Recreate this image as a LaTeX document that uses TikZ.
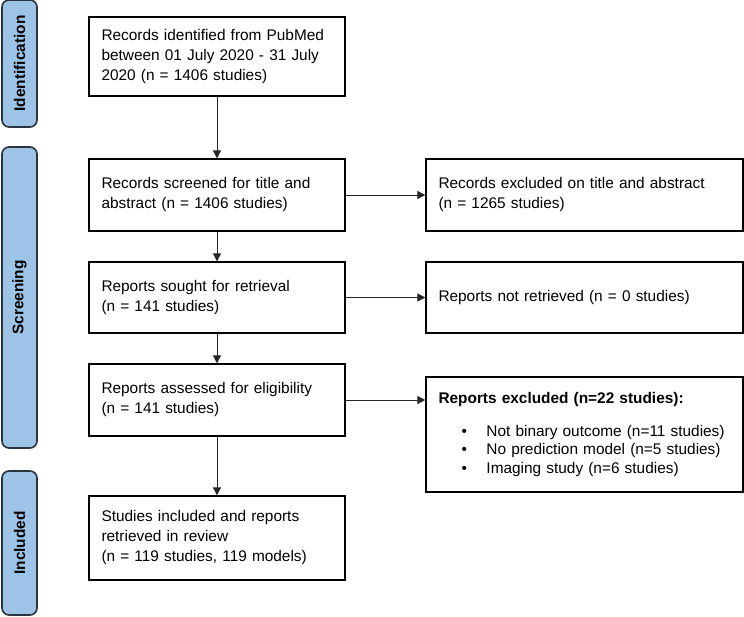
\documentclass[tikz,border=0pt]{standalone}
\usepackage{fontspec}
\setmainfont{Liberation Sans}
\usetikzlibrary{arrows.meta,positioning}

\definecolor{stagefill}{HTML}{9DC3E6}
\definecolor{stageedge}{HTML}{2A3441}

\begin{document}
\begin{tikzpicture}[
    x=1pt, y=-1pt,
    stage/.style={rectangle, draw=stageedge, fill=stagefill, line width=1.6pt, rounded corners=7pt,
        rotate=90, minimum height=35pt, inner sep=0pt, font=\fontsize{15.4}{18}\selectfont\bfseries},
    flowbox/.style={rectangle, draw, line width=1.3pt, align=left, inner xsep=12.5pt, inner ysep=0pt,
        font=\fontsize{15.4}{20}\selectfont},
    mainbox/.style={flowbox, minimum width=256pt, text width=231pt},
    sidebox/.style={flowbox, minimum width=317pt, text width=292pt},
    flow/.style={-{Triangle[width=8pt,length=8pt]}, line width=0.8pt, draw=black!85}
]
\useasboundingbox (0,0) rectangle (744,616);

% Stages
\node[stage, minimum width=127pt] (sIdent) at (19.5,63.5) {Identification};
\node[stage, minimum width=301pt] (sScreen) at (19.5,297.5) {Screening};
\node[stage, minimum width=144pt] (sIncl) at (19.5,543) {Included};

% Main column
\node[mainbox, minimum height=79pt] (ident) at (217,56.5)
    {Records identified from PubMed\\between 01 July 2020 - 31 July\\2020 (n = 1406 studies)};
\node[mainbox, minimum height=72pt] (screen) at (217,195)
    {Records screened for title and\\abstract (n = 1406 studies)};
\node[mainbox, minimum height=71pt] (sought) at (217,297.5)
    {Reports sought for retrieval\\(n = 141 studies)};
\node[mainbox, minimum height=72pt] (assess) at (217,400)
    {Reports assessed for eligibility\\(n = 141 studies)};
\node[mainbox, minimum height=84pt] (incl) at (217,538)
    {Studies included and reports\\retrieved in review\\(n = 119 studies, 119 models)};

% Exclusions
\node[sidebox, minimum height=72pt] (exAbs) at (584.5,195)
    {Records excluded on title and abstract\\(n = 1265 studies)};
\node[sidebox, minimum height=71pt] (exRet) at (584.5,297.5)
    {Reports not retrieved (n = 0 studies)};
\node[sidebox, minimum height=115pt, font=\fontsize{15.4}{18.8}\selectfont] (exElig) at (584.5,434.5)
    {\textbf{Reports excluded (n=22 studies):}\\[14pt]
     \hspace*{23pt}\makebox[25pt][l]{\textbullet}Not binary outcome (n=11 studies)\\
     \hspace*{23pt}\makebox[25pt][l]{\textbullet}No prediction model (n=5 studies)\\
     \hspace*{23pt}\makebox[25pt][l]{\textbullet}Imaging study (n=6 studies)};

% Arrows
\draw[flow] (ident) -- (screen);
\draw[flow] (screen) -- (sought);
\draw[flow] (sought) -- (assess);
\draw[flow] (assess) -- (incl);
\draw[flow] (screen) -- (exAbs);
\draw[flow] (sought) -- (exRet);
\draw[flow] (assess.east) -- (exElig.west |- assess.east);

\end{tikzpicture}
\end{document}
